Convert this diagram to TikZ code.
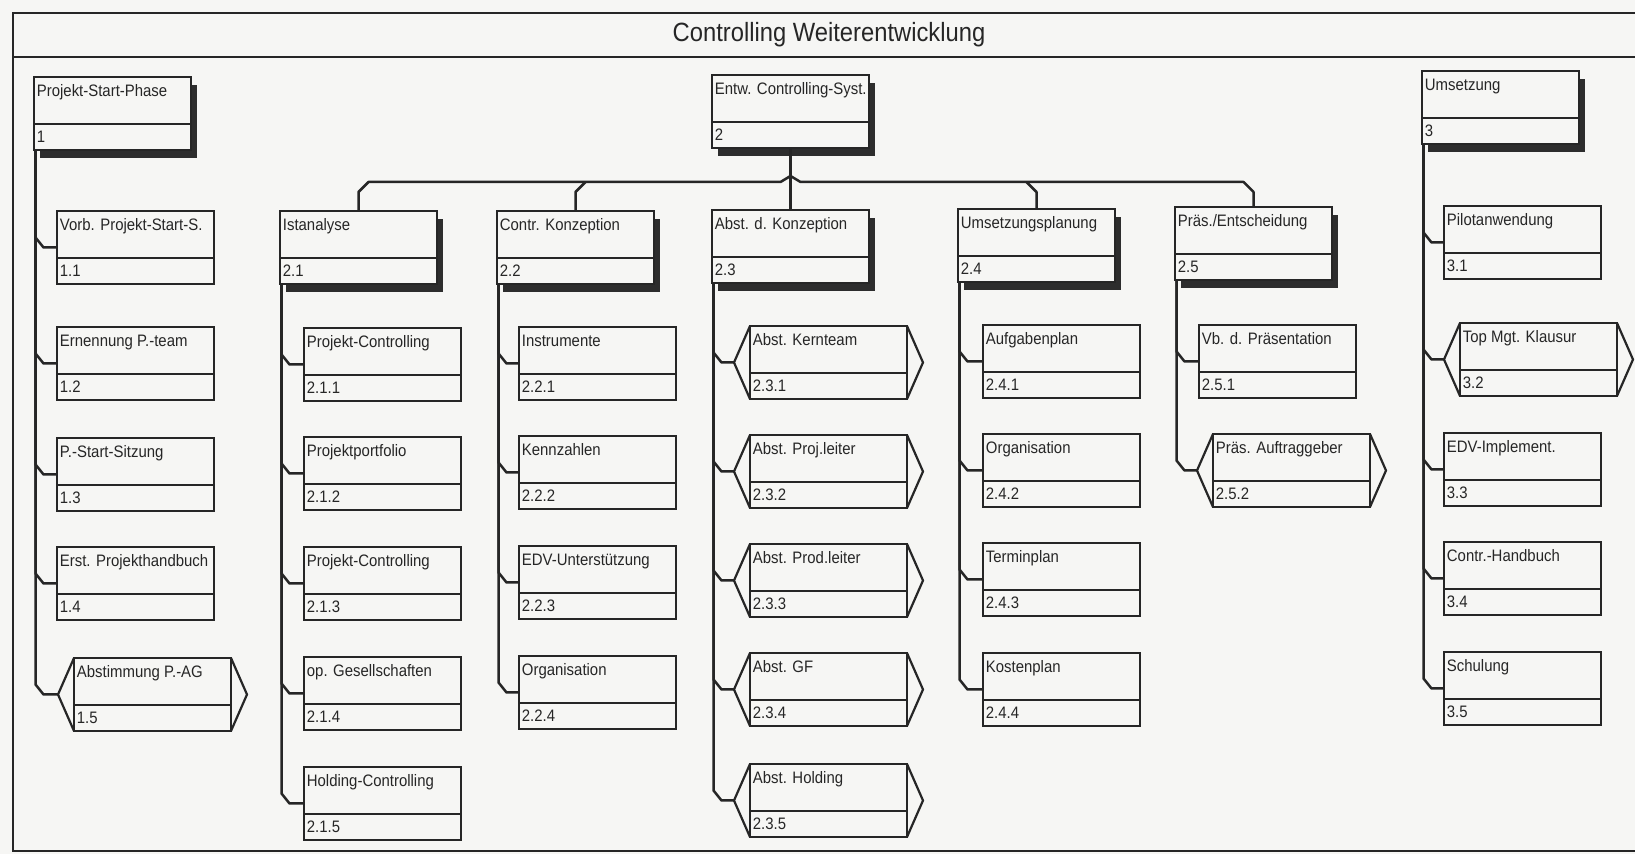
\documentclass[tikz,border=0pt]{standalone}
\usepackage{fontspec}
\setmainfont{Liberation Sans}
\newfontfamily\wbsfont[FakeStretch=0.9]{Liberation Sans}
\usetikzlibrary{calc,shadows}
\definecolor{bgc}{RGB}{246,246,244}
\definecolor{inkc}{RGB}{38,38,38}
\definecolor{shc}{RGB}{45,45,45}
\tikzset{
  wbsbox/.style={draw=inkc, line width=1.1pt, fill=bgc, minimum width=78.5pt, minimum height=36.5pt, inner sep=0pt, outer sep=0pt},
  lvlbox/.style={wbsbox, drop shadow={shadow xshift=3pt, shadow yshift=-4pt, fill=shc, opacity=1}},
  sepline/.style={draw=inkc, line width=1.1pt},
  lbl/.style={anchor=base west, inner sep=0pt, text=inkc, font=\wbsfont\fontsize{8.3pt}{10pt}\selectfont},
  conn/.style={draw=inkc, line width=1.25pt, line join=round},
  chev/.style={draw=inkc, line width=1.1pt},
  frame/.style={draw=inkc, line width=1.4pt},
}
\newcommand{\wbsnode}[6]{%
  \node[#6] (#1) at ({#2+78.5},{#3+36.5}) {};
  \draw[sepline] ($(#1.north west)+(0,47)$) -- ($(#1.north east)+(0,47)$);
  \node[lbl] (#1l) at ($(#1.north west)+(2.5,20)$) {#4};
  \node[lbl] (#1n) at ($(#1.north west)+(2.5,66)$) {#5};
}
\newcommand{\wbshex}[5]{%
  \wbsnode{#1}{#2}{#3}{#4}{#5}{wbsbox}
  \draw[chev] (#1.north west) -- ($(#1.west)+(-16,0)$) coordinate (#1tip) -- (#1.south west);
  \draw[chev] (#1.north east) -- ($(#1.east)+(16,0)$) -- (#1.south east);
}
\newcommand{\kid}[2]{%
  \draw[conn] ($(#1.south west)+(1.5,0)$) -- ($(#1.south west |- #2)+(1.5,-10)$) -- ($(#1.south west |- #2)+(9.5,0)$) -- (#2);
}
\begin{document}
\begin{tikzpicture}[x=0.5pt,y=-0.5pt]
\useasboundingbox (0,0) rectangle (1635,854);
\fill[bgc] (0,0) rectangle (1635,854);
% frame
\draw[frame] (1635,13) -- (13,13) -- (13,851) -- (1635,851);
\draw[frame] (13,57) -- (1635,57);
\node[anchor=base, inner sep=0pt, text=inkc, font=\wbsfont\fontsize{13.2pt}{15pt}\selectfont] (title) at (829,42) {Controlling Weiterentwicklung};
% level 1
\wbsnode{P1}{34}{77}{Projekt-Start-Phase}{1}{lvlbox}
\wbsnode{P2}{712}{75}{Entw. Controlling-Syst.}{2}{lvlbox}
\wbsnode{P3}{1422}{71}{Umsetzung}{3}{lvlbox}
% level 2
\wbsnode{A21}{280}{211}{Istanalyse}{2.1}{lvlbox}
\wbsnode{A22}{497}{211}{Contr. Konzeption}{2.2}{lvlbox}
\wbsnode{A23}{712}{210}{Abst. d. Konzeption}{2.3}{lvlbox}
\wbsnode{A24}{958}{209}{Umsetzungsplanung}{2.4}{lvlbox}
\wbsnode{A25}{1175}{207}{Präs./Entscheidung}{2.5}{lvlbox}
% column 1
\wbsnode{B11}{57}{211}{Vorb. Projekt-Start-S.}{1.1}{wbsbox}
\wbsnode{B12}{57}{327}{Ernennung P.-team}{1.2}{wbsbox}
\wbsnode{B13}{57}{438}{P.-Start-Sitzung}{1.3}{wbsbox}
\wbsnode{B14}{57}{547}{Erst. Projekthandbuch}{1.4}{wbsbox}
\wbshex{B15}{74}{658}{Abstimmung P.-AG}{1.5}
% column 2.1
\wbsnode{C1}{304}{328}{Projekt-Controlling}{2.1.1}{wbsbox}
\wbsnode{C2}{304}{437}{Projektportfolio}{2.1.2}{wbsbox}
\wbsnode{C3}{304}{547}{Projekt-Controlling}{2.1.3}{wbsbox}
\wbsnode{C4}{304}{657}{op. Gesellschaften}{2.1.4}{wbsbox}
\wbsnode{C5}{304}{767}{Holding-Controlling}{2.1.5}{wbsbox}
% column 2.2
\wbsnode{D1}{519}{327}{Instrumente}{2.2.1}{wbsbox}
\wbsnode{D2}{519}{436}{Kennzahlen}{2.2.2}{wbsbox}
\wbsnode{D3}{519}{546}{EDV-Unterstützung}{2.2.3}{wbsbox}
\wbsnode{D4}{519}{656}{Organisation}{2.2.4}{wbsbox}
% column 2.3
\wbshex{E1}{750}{326}{Abst. Kernteam}{2.3.1}
\wbshex{E2}{750}{435}{Abst. Proj.leiter}{2.3.2}
\wbshex{E3}{750}{544}{Abst. Prod.leiter}{2.3.3}
\wbshex{E4}{750}{653}{Abst. GF}{2.3.4}
\wbshex{E5}{750}{764}{Abst. Holding}{2.3.5}
% column 2.4
\wbsnode{F1}{983}{325}{Aufgabenplan}{2.4.1}{wbsbox}
\wbsnode{F2}{983}{434}{Organisation}{2.4.2}{wbsbox}
\wbsnode{F3}{983}{543}{Terminplan}{2.4.3}{wbsbox}
\wbsnode{F4}{983}{653}{Kostenplan}{2.4.4}{wbsbox}
% column 2.5
\wbsnode{G1}{1199}{325}{Vb. d. Präsentation}{2.5.1}{wbsbox}
\wbshex{G2}{1213}{434}{Präs. Auftraggeber}{2.5.2}
% column 3
\wbsnode{H1}{1444}{206}{Pilotanwendung}{3.1}{wbsbox}
\wbshex{H2}{1460}{323}{Top Mgt. Klausur}{3.2}
\wbsnode{H3}{1444}{433}{EDV-Implement.}{3.3}{wbsbox}
\wbsnode{H4}{1444}{542}{Contr.-Handbuch}{3.4}{wbsbox}
\wbsnode{H5}{1444}{652}{Schulung}{3.5}{wbsbox}
% bus from P2
\coordinate (bus) at (0,182);
\draw[conn] (P2.south) -- (A23.north);
\draw[conn] ($(P2.south |- bus)+(0,-6)$) -- ($(P2.south |- bus)+(-10,0)$) -- ($(A21.north |- bus)+(10,0)$) -- ($(A21.north |- bus)+(0,10)$) -- (A21.north);
\draw[conn] ($(P2.south |- bus)+(0,-6)$) -- ($(P2.south |- bus)+(10,0)$) -- ($(A25.north |- bus)+(-10,0)$) -- ($(A25.north |- bus)+(0,10)$) -- (A25.north);
\draw[conn] ($(A22.north |- bus)+(10,0)$) -- ($(A22.north |- bus)+(0,10)$) -- (A22.north);
\draw[conn] ($(A24.north |- bus)+(-10,0)$) -- ($(A24.north |- bus)+(0,10)$) -- (A24.north);
% children
\kid{P1}{B11.west} \kid{P1}{B12.west} \kid{P1}{B13.west} \kid{P1}{B14.west} \kid{P1}{B15tip}
\kid{A21}{C1.west} \kid{A21}{C2.west} \kid{A21}{C3.west} \kid{A21}{C4.west} \kid{A21}{C5.west}
\kid{A22}{D1.west} \kid{A22}{D2.west} \kid{A22}{D3.west} \kid{A22}{D4.west}
\kid{A23}{E1tip} \kid{A23}{E2tip} \kid{A23}{E3tip} \kid{A23}{E4tip} \kid{A23}{E5tip}
\kid{A24}{F1.west} \kid{A24}{F2.west} \kid{A24}{F3.west} \kid{A24}{F4.west}
\kid{A25}{G1.west} \kid{A25}{G2tip}
\kid{P3}{H1.west} \kid{P3}{H2tip} \kid{P3}{H3.west} \kid{P3}{H4.west} \kid{P3}{H5.west}
\end{tikzpicture}
\end{document}
